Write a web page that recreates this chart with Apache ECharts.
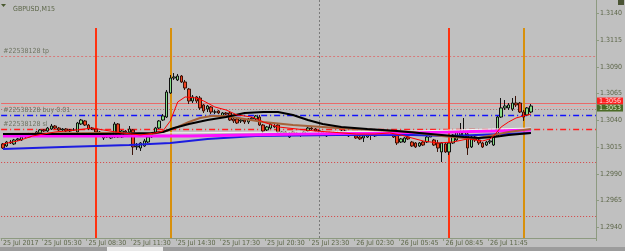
<!DOCTYPE html>
<html>
<head>
<meta charset="utf-8">
<script src="https://cdn.jsdelivr.net/npm/echarts@6/dist/echarts.min.js"></script>
<style>
  html, body { margin: 0; padding: 0; background: #c0c0c0; }
  #main { width: 625px; height: 251px; }
</style>
</head>
<body>
<div id="main"></div>
<script>
// GBPUSD M15 candles: [open, close, low, high]
var candles = [
  [1.30179, 1.30141, 1.30132, 1.30188], [1.30160, 1.30197, 1.30151, 1.30207], [1.30197, 1.30188, 1.30179, 1.30216],
  [1.30179, 1.30216, 1.30169, 1.30226], [1.30216, 1.30226, 1.30207, 1.30235], [1.30216, 1.30244, 1.30207, 1.30254],
  [1.30244, 1.30254, 1.30235, 1.30263], [1.30244, 1.30272, 1.30235, 1.30282], [1.30272, 1.30263, 1.30254, 1.30282],
  [1.30263, 1.30291, 1.30254, 1.30300], [1.30282, 1.30310, 1.30272, 1.30319], [1.30310, 1.30300, 1.30291, 1.30319],
  [1.30300, 1.30328, 1.30291, 1.30338], [1.30319, 1.30347, 1.30310, 1.30366], [1.30347, 1.30328, 1.30319, 1.30356],
  [1.30328, 1.30310, 1.30300, 1.30338], [1.30310, 1.30319, 1.30300, 1.30328], [1.30319, 1.30300, 1.30291, 1.30328],
  [1.30300, 1.30310, 1.30291, 1.30319], [1.30310, 1.30310, 1.30300, 1.30328], [1.30291, 1.30375, 1.30282, 1.30385],
  [1.30366, 1.30403, 1.30356, 1.30413], [1.30394, 1.30356, 1.30347, 1.30403], [1.30356, 1.30319, 1.30310, 1.30366],
  [1.30319, 1.30328, 1.30310, 1.30338], [1.30319, 1.30291, 1.30282, 1.30328], [1.30291, 1.30263, 1.30254, 1.30300],
  [1.30235, 1.30254, 1.30216, 1.30263], [1.30254, 1.30244, 1.30235, 1.30272], [1.30235, 1.30263, 1.30226, 1.30272],
  [1.30244, 1.30366, 1.30235, 1.30385], [1.30366, 1.30244, 1.30235, 1.30375], [1.30244, 1.30300, 1.30235, 1.30310],
  [1.30300, 1.30291, 1.30282, 1.30310], [1.30291, 1.30319, 1.30282, 1.30347], [1.30310, 1.30151, 1.30076, 1.30319],
  [1.30151, 1.30160, 1.30123, 1.30188], [1.30141, 1.30188, 1.30113, 1.30197], [1.30160, 1.30207, 1.30151, 1.30226],
  [1.30197, 1.30244, 1.30188, 1.30254], [1.30244, 1.30282, 1.30235, 1.30291], [1.30282, 1.30328, 1.30272, 1.30338],
  [1.30328, 1.30394, 1.30319, 1.30403], [1.30403, 1.30441, 1.30394, 1.30459], [1.30431, 1.30665, 1.30422, 1.30684],
  [1.30656, 1.30796, 1.30647, 1.30824], [1.30796, 1.30806, 1.30778, 1.30843], [1.30778, 1.30815, 1.30768, 1.30834],
  [1.30815, 1.30759, 1.30750, 1.30824], [1.30759, 1.30703, 1.30684, 1.30778], [1.30693, 1.30581, 1.30553, 1.30703],
  [1.30581, 1.30619, 1.30562, 1.30637], [1.30619, 1.30581, 1.30562, 1.30628], [1.30609, 1.30516, 1.30497, 1.30628],
  [1.30544, 1.30488, 1.30469, 1.30553], [1.30506, 1.30534, 1.30478, 1.30544], [1.30525, 1.30478, 1.30459, 1.30534],
  [1.30478, 1.30478, 1.30459, 1.30497], [1.30488, 1.30469, 1.30459, 1.30497], [1.30441, 1.30469, 1.30431, 1.30478],
  [1.30469, 1.30459, 1.30441, 1.30478], [1.30469, 1.30403, 1.30394, 1.30478], [1.30413, 1.30394, 1.30375, 1.30422],
  [1.30413, 1.30375, 1.30366, 1.30431], [1.30394, 1.30403, 1.30375, 1.30422], [1.30403, 1.30385, 1.30366, 1.30413],
  [1.30385, 1.30413, 1.30366, 1.30422], [1.30413, 1.30422, 1.30394, 1.30431], [1.30413, 1.30441, 1.30403, 1.30450],
  [1.30431, 1.30356, 1.30347, 1.30450], [1.30356, 1.30300, 1.30282, 1.30366], [1.30310, 1.30338, 1.30300, 1.30347],
  [1.30328, 1.30366, 1.30319, 1.30375], [1.30347, 1.30338, 1.30328, 1.30366], [1.30356, 1.30291, 1.30282, 1.30366],
  [1.30272, 1.30291, 1.30263, 1.30300], [1.30291, 1.30282, 1.30272, 1.30300], [1.30244, 1.30282, 1.30235, 1.30291],
  [1.30291, 1.30272, 1.30254, 1.30300], [1.30282, 1.30263, 1.30254, 1.30291], [1.30272, 1.30263, 1.30244, 1.30282],
  [1.30272, 1.30291, 1.30263, 1.30300], [1.30300, 1.30328, 1.30291, 1.30338], [1.30328, 1.30319, 1.30310, 1.30338],
  [1.30319, 1.30300, 1.30291, 1.30328], [1.30300, 1.30300, 1.30282, 1.30310], [1.30263, 1.30291, 1.30254, 1.30300],
  [1.30254, 1.30282, 1.30244, 1.30291], [1.30282, 1.30291, 1.30272, 1.30300], [1.30291, 1.30282, 1.30272, 1.30300],
  [1.30272, 1.30291, 1.30263, 1.30300], [1.30291, 1.30300, 1.30282, 1.30310], [1.30300, 1.30263, 1.30254, 1.30310],
  [1.30254, 1.30282, 1.30244, 1.30291], [1.30272, 1.30263, 1.30254, 1.30282], [1.30254, 1.30235, 1.30226, 1.30263],
  [1.30244, 1.30226, 1.30216, 1.30254], [1.30235, 1.30254, 1.30197, 1.30263], [1.30244, 1.30282, 1.30235, 1.30291],
  [1.30272, 1.30272, 1.30216, 1.30282], [1.30254, 1.30291, 1.30244, 1.30300], [1.30272, 1.30282, 1.30263, 1.30291],
  [1.30263, 1.30291, 1.30254, 1.30300], [1.30282, 1.30282, 1.30272, 1.30291], [1.30263, 1.30291, 1.30254, 1.30300],
  [1.30291, 1.30244, 1.30235, 1.30300], [1.30263, 1.30188, 1.30169, 1.30272], [1.30197, 1.30226, 1.30188, 1.30235],
  [1.30197, 1.30235, 1.30188, 1.30244], [1.30244, 1.30226, 1.30216, 1.30254], [1.30197, 1.30160, 1.30151, 1.30207],
  [1.30188, 1.30151, 1.30141, 1.30197], [1.30160, 1.30188, 1.30151, 1.30197], [1.30197, 1.30169, 1.30160, 1.30207],
  [1.30197, 1.30244, 1.30188, 1.30254], [1.30244, 1.30263, 1.30244, 1.30310], [1.30216, 1.30169, 1.30160, 1.30226],
  [1.30188, 1.30141, 1.30104, 1.30216], [1.30104, 1.30188, 1.30010, 1.30197], [1.30179, 1.30104, 1.30095, 1.30188],
  [1.30104, 1.30188, 1.30076, 1.30197], [1.30188, 1.30263, 1.30179, 1.30272], [1.30216, 1.30291, 1.30207, 1.30300],
  [1.30263, 1.30291, 1.30254, 1.30375], [1.30244, 1.30291, 1.30235, 1.30422], [1.30272, 1.30141, 1.30076, 1.30282],
  [1.30151, 1.30244, 1.30141, 1.30254], [1.30244, 1.30216, 1.30197, 1.30254], [1.30216, 1.30188, 1.30169, 1.30226],
  [1.30188, 1.30151, 1.30141, 1.30197], [1.30169, 1.30197, 1.30160, 1.30207], [1.30197, 1.30207, 1.30179, 1.30226],
  [1.30169, 1.30244, 1.30160, 1.30254], [1.30254, 1.30431, 1.30244, 1.30441], [1.30431, 1.30516, 1.30422, 1.30609],
  [1.30516, 1.30534, 1.30497, 1.30590], [1.30516, 1.30544, 1.30497, 1.30562], [1.30506, 1.30562, 1.30488, 1.30609],
  [1.30562, 1.30544, 1.30525, 1.30628], [1.30562, 1.30478, 1.30469, 1.30572], [1.30478, 1.30431, 1.30394, 1.30497],
  [1.30450, 1.30516, 1.30441, 1.30525], [1.30478, 1.30534, 1.30469, 1.30553]
];

// moving averages as [bar index, price]
var maRed = [[0,1.30179],[4,1.30207],[8,1.30254],[14,1.30291],[20,1.30310],[24,1.30328],[27,1.30310],[32,1.30282],
  [37,1.30263],[41,1.30282],[43,1.30300],[45,1.30394],[47,1.30572],[49,1.30619],[52,1.30609],[54,1.30581],[57,1.30525],
  [60,1.30497],[63,1.30450],[67,1.30431],[70,1.30385],[74,1.30338],[79,1.30319],[84,1.30300],[88,1.30291],[95,1.30272],
  [100,1.30272],[104,1.30282],[107,1.30263],[110,1.30235],[113,1.30207],[117,1.30188],[121,1.30197],[125,1.30226],
  [129,1.30207],[131,1.30226],[132,1.30254],[134,1.30338],[136,1.30385],[138,1.30422],[140,1.30441],[142,1.30459]];
var maBlack = [[0,1.30272],[27,1.30272],[40,1.30282],[43,1.30291],[46,1.30328],[50,1.30366],[55,1.30403],[60,1.30431],
  [65,1.30469],[70,1.30478],[74,1.30478],[78,1.30450],[82,1.30403],[86,1.30366],[91,1.30338],[98,1.30319],[106,1.30300],
  [112,1.30282],[118,1.30263],[124,1.30244],[128,1.30235],[132,1.30244],[136,1.30263],[142,1.30282]];
var maBrown = [[0,1.30272],[27,1.30282],[40,1.30272],[44,1.30300],[47,1.30338],[50,1.30385],[53,1.30422],[56,1.30441],
  [60,1.30441],[65,1.30413],[70,1.30385],[78,1.30356],[90,1.30328],[100,1.30310],[110,1.30291],[118,1.30254],
  [124,1.30235],[128,1.30235],[132,1.30263],[136,1.30291],[142,1.30319]];
var maMagenta = [[0,1.30254],[50,1.30254],[80,1.30272],[100,1.30282],[120,1.30291],[142,1.30310]];
var maWhite = [[0,1.30272],[80,1.30291],[110,1.30300],[142,1.30328]];
var maBlue = [[0,1.30132],[16,1.30151],[34,1.30169],[45,1.30188],[55,1.30226],[68,1.30254],[90,1.30263],
  [110,1.30263],[120,1.30254],[142,1.30282]];

// price levels
var tpLevel = 1.31002;
var askLevel = 1.30562;
var bidLevel = 1.30534;
var openLevel = 1.30506;
var buyLevel = 1.30450;
var slLevel = 1.30319;
var dotLevels = [1.30010, 1.29505];

// vertical markers (bar index)
var redBars = [25, 120];
var orangeBars = [45, 140];
var daySep = 85;
var vTop = 1.31264;

var yMin = 1.292987, yMax = 1.315264;
var yTicks = [1.2940, 1.2965, 1.2990, 1.3015, 1.3040, 1.3065, 1.3090, 1.3115, 1.3140];
var xTickIdx = [0, 11, 23, 35, 47, 59, 71, 83, 95, 107, 119, 131];
var xTickText = ['25 Jul 2017', '25 Jul 05:30', '25 Jul 08:30', '25 Jul 11:30', '25 Jul 14:30', '25 Jul 17:30',
  '25 Jul 20:30', '25 Jul 23:30', '26 Jul 02:30', '26 Jul 05:45', '26 Jul 08:45', '26 Jul 11:45'];

var slots = [];
for (var i = 0; i < 160; i++) slots.push(String(i));

var FONT = "'Liberation Sans Narrow', 'DejaVu Sans Condensed', 'Liberation Sans', sans-serif";
var TXT = '#5c6648';
var AX = '#8d9a80';

function hline(v, color, type, width, label) {
  var d = { yAxis: v, lineStyle: { color: color, type: type, width: width || 1 } };
  if (label) d.label = label;
  return d;
}
function vseg(idx, color, width) {
  return [
    { coord: [idx, vTop], lineStyle: { color: color, width: width, type: 'solid' } },
    { coord: [idx, yMin] }
  ];
}
var leftLabel = function (t) {
  return { show: true, position: 'insideStartTop', formatter: t, distance: [2, 1],
    fontFamily: FONT, fontSize: 7, color: '#6e7462' };
};

var markData = [
  hline(tpLevel, '#d87a7a', [2, 2], 1, leftLabel('#22538128 tp')),
  hline(openLevel, '#a86a6a', [1, 2], 1),
  hline(buyLevel, '#1010ff', [6, 3, 1, 3], 1.3, leftLabel('#22538128 buy 0.01')),
  hline(slLevel, '#ff2020', [6, 3, 1, 3], 1.3, leftLabel('#22538128 sl')),
  hline(dotLevels[0], '#d84040', [1, 2], 1),
  hline(dotLevels[1], '#d84040', [1, 2], 1),
  hline(askLevel, '#e86a6a', 'solid', 1, { show: true, position: 'end', distance: 1, offset: [0, -2],
    formatter: askLevel.toFixed(4), backgroundColor: '#ff2020', color: '#ffe0e0', fontFamily: FONT,
    fontSize: 7, padding: [0, 2], lineHeight: 7 }),
  hline(bidLevel, '#f0a8a8', 'solid', 1, { show: true, position: 'end', distance: 1, offset: [0, 2],
    formatter: bidLevel.toFixed(4), backgroundColor: '#4a6a24', color: '#e0ecd0', fontFamily: FONT,
    fontSize: 7, padding: [0, 2], lineHeight: 7 }),
  { xAxis: daySep, lineStyle: { color: '#7a7a7a', type: [2, 2], width: 1 } },
  vseg(redBars[0], '#ff3210', 2), vseg(redBars[1], '#ff3210', 2),
  vseg(orangeBars[0], '#d8900c', 2), vseg(orangeBars[1], '#d8900c', 2)
];

function maSeries(data, color, width, z) {
  return { type: 'line', data: data, showSymbol: false, symbol: 'none', silent: true, z: z,
    lineStyle: { color: color, width: width } };
}

var myChart = echarts.init(document.getElementById('main'));

var option = {
  backgroundColor: '#c0c0c0',
  animation: false,
  title: { text: 'GBPUSD,M15', left: 8, top: 1,
    textStyle: { fontFamily: FONT, fontSize: 7, fontWeight: 'normal', color: TXT } },
  grid: { left: 0, right: 25, top: 0, bottom: 13 },
  xAxis: {
    type: 'category', data: slots, boundaryGap: true,
    axisLine: { lineStyle: { color: AX } },
    axisTick: { show: true, length: 3, lineStyle: { color: AX },
      interval: function (idx) { return xTickIdx.indexOf(idx) >= 0; } },
    axisLabel: { show: true, margin: 2, align: 'left', fontFamily: FONT, fontSize: 7, color: TXT,
      interval: function (idx) { return xTickIdx.indexOf(idx) >= 0; },
      formatter: function (v, idx) { var k = xTickIdx.indexOf(Number(v)); return k >= 0 ? xTickText[k] : ''; } },
    splitLine: { show: false }
  },
  yAxis: {
    type: 'value', position: 'right', min: yMin, max: yMax, scale: true,
    axisLine: { show: true, lineStyle: { color: AX } },
    axisTick: { show: true, length: 3, customValues: yTicks, lineStyle: { color: AX } },
    axisLabel: { show: true, margin: 4, customValues: yTicks, fontFamily: FONT, fontSize: 7, color: TXT,
      formatter: function (v) { return v.toFixed(4); } },
    splitLine: { show: false }
  },
  graphic: [
    { type: 'polygon', shape: { points: [[1, 4], [6, 4], [3.5, 7]] }, style: { fill: '#4a5a30' } },
    { type: 'rect', shape: { x: 618, y: 0, width: 6, height: 5 }, style: { fill: '#4a5434' } },
    { type: 'rect', shape: { x: 0, y: 247, width: 625, height: 4 }, style: { fill: '#9c9c9c' } },
    { type: 'rect', shape: { x: 107, y: 247, width: 56, height: 4 }, style: { fill: '#e8e8e8' } }
  ],
  series: [
    {
      type: 'candlestick', data: candles, barWidth: 3, z: 3,
      itemStyle: { color: '#86dd86', color0: '#f2401e', borderColor: '#101010', borderColor0: '#3a1208', borderWidth: 1 },
      markLine: { symbol: 'none', silent: true, precision: 5, z: 2, label: { show: false }, data: markData }
    },
    maSeries(maBlue, '#1c1ce0', 2, 4),
    maSeries(maMagenta, '#ff10ff', 3, 5),
    maSeries(maWhite, '#f4f4f4', 1, 5),
    maSeries(maBrown, '#a5623a', 2, 6),
    maSeries(maBlack, '#000000', 2, 7),
    maSeries(maRed, '#ff0000', 1, 8)
  ]
};

myChart.setOption(option);
</script>
</body>
</html>
